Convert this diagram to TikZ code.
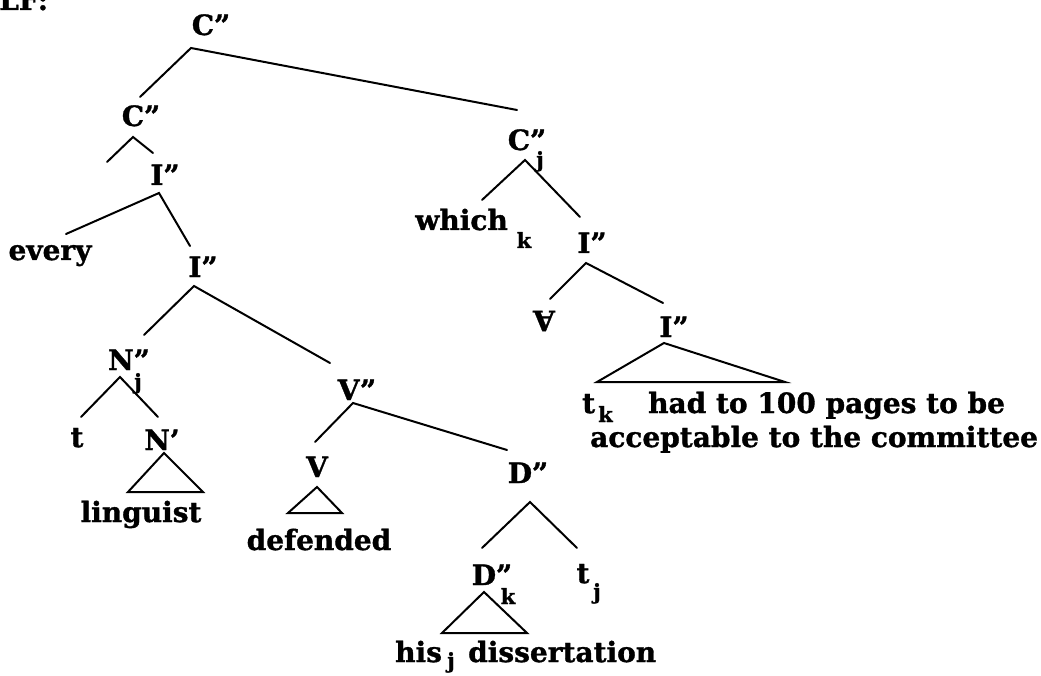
\documentclass[tikz,border=0pt]{standalone}
\usepackage{fontspec}
\setmainfont{DejaVu Serif}[BoldFeatures={FakeBold=1.2}]
\begin{document}
\begin{tikzpicture}[x=1pt,y=-1pt,
  lab/.style={font=\fontsize{28}{30}\selectfont\bfseries, inner sep=0pt, anchor=base},
  sub/.style={font=\fontsize{21}{23}\selectfont\bfseries, inner sep=0pt, anchor=base},
  br/.style={line width=2pt, line join=miter, line cap=round},
  tri/.style={line width=2pt, line join=miter}]
\useasboundingbox (0,0) rectangle (1041,676);
% labels
\node[lab, anchor=base west] (LF) at (-1,10) {LF:};
\node[lab] (C0) at (211,35) {C"};
\node[lab] (C1) at (141,126) {C"};
\node[lab] (I1) at (165,185) {I"};
\node[lab] (every) at (50,260) {every};
\node[lab] (I2) at (203,277) {I"};
\node[lab] (N2) at (129,370) {N"};
\node[sub] (N2j) at (138,389) {j};
\node[lab] (t1) at (77,447) {t};
\node[lab] (N1) at (162,450) {N'};
\node[lab] (ling) at (141,522) {linguist};
\node[lab] (V2) at (357,400) {V"};
\node[lab] (V) at (317,477) {V};
\node[lab] (def) at (319,550) {defended};
\node[lab] (D2) at (528,483) {D"};
\node[lab] (D2k) at (492,585) {D"};
\node[sub] (D2kk) at (508,604) {k};
\node[lab] (tj) at (583,583) {t};
\node[sub] (tjj) at (597,599) {j};
\node[lab, anchor=base west] (his) at (395,662) {his};
\node[sub] (hisj) at (451,668) {j};
\node[lab, anchor=base west] (diss) at (468,662) {dissertation};
\node[lab] (Cj) at (527,150) {C"};
\node[sub] (Cjj) at (540,167) {j};
\node[lab, anchor=base east] (which) at (508,230) {which};
\node[sub] (whichk) at (524,248) {k};
\node[lab] (I3) at (592,253) {I"};
\node[lab, anchor=center, rotate=180] (forall) at (544,321) {A};
\node[lab] (I4) at (674,337) {I"};
\node[lab, anchor=base west] (tk) at (582,413) {t};
\node[sub, anchor=base west] (tkk) at (598,422) {k};
\node[lab, anchor=base west] (had) at (648,413) {had to 100 pages to be};
\node[lab, anchor=base west] (acc) at (590,447) {acceptable to the committee};
% branch points
\coordinate (C0a) at (191,48);
\coordinate (C1t) at (140,97);
\coordinate (Cjt) at (517,110);
\coordinate (C1a) at (133,137);
\coordinate (C1l) at (107,162);
\coordinate (I1t) at (153,153);
\coordinate (I1a) at (159,193);
\coordinate (everyt) at (66,234);
\coordinate (I2t) at (190,246);
\coordinate (I2a) at (194,286);
\coordinate (N2t) at (144,335);
\coordinate (V2t) at (330,363);
\coordinate (N2a) at (120,377);
\coordinate (t1t) at (81,417);
\coordinate (N1t) at (158,417);
\coordinate (N1a) at (164,453);
\coordinate (N1l) at (128,492);
\coordinate (N1r) at (203,492);
\coordinate (V2a) at (353,403);
\coordinate (Vt) at (315,442);
\coordinate (D2t) at (507,450);
\coordinate (Va) at (317,487);
\coordinate (Vl) at (288,513);
\coordinate (Vr) at (342,513);
\coordinate (D2a) at (530,502);
\coordinate (D2kt) at (482,548);
\coordinate (tjt) at (577,548);
\coordinate (D2ka) at (484,592);
\coordinate (D2kl) at (442,633);
\coordinate (D2kr) at (527,633);
\coordinate (Cja) at (525,160);
\coordinate (whicht) at (482,200);
\coordinate (I3t) at (580,217);
\coordinate (I3a) at (586,263);
\coordinate (forallt) at (550,299);
\coordinate (I4t) at (663,303);
\coordinate (I4a) at (664,343);
\coordinate (I4l) at (597,382);
\coordinate (I4r) at (785,382);
% branches
\draw[br] (C1t) -- (C0a) -- (Cjt);
\draw[br] (C1l) -- (C1a) -- (I1t);
\draw[br] (everyt) -- (I1a) -- (I2t);
\draw[br] (N2t) -- (I2a) -- (V2t);
\draw[br] (t1t) -- (N2a) -- (N1t);
\draw[tri] (N1a) -- (N1l) -- (N1r) -- cycle;
\draw[br] (Vt) -- (V2a) -- (D2t);
\draw[tri] (Va) -- (Vl) -- (Vr) -- cycle;
\draw[br] (D2kt) -- (D2a) -- (tjt);
\draw[tri] (D2ka) -- (D2kl) -- (D2kr) -- cycle;
\draw[br] (whicht) -- (Cja) -- (I3t);
\draw[br] (forallt) -- (I3a) -- (I4t);
\draw[tri] (I4a) -- (I4l) -- (I4r) -- cycle;
\end{tikzpicture}
\end{document}
